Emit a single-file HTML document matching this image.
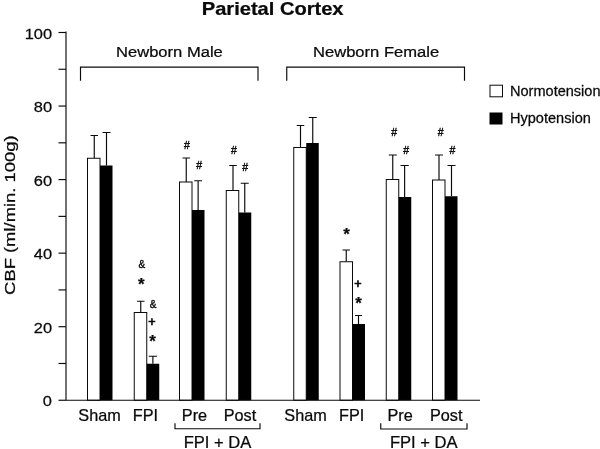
<!DOCTYPE html>
<html><head><meta charset="utf-8"><title>Parietal Cortex</title>
<style>
html,body{margin:0;padding:0;background:#fff;}
svg{display:block;filter:grayscale(1);font-family:"Liberation Sans",Arial,Helvetica,sans-serif;fill:#0a0a0a;}
text{stroke:#0a0a0a;stroke-width:0.25px;}
text.s{stroke-width:0.4px;}
text.p{stroke-width:0.7px;}
</style></head><body>
<svg width="600" height="449" viewBox="0 0 600 449">
<rect x="0" y="0" width="600" height="449" fill="#ffffff"/>

<g stroke="#0a0a0a" stroke-width="1.15" fill="none">
<path d="M94.25 158.25V135.50M90.50 135.50H98.00"/>
<path d="M106.50 165.50V132.50M102.50 132.50H110.50"/>
<path d="M140.75 312.50V301.25M137.00 301.25H144.50"/>
<path d="M152.88 363.75V356.25M148.75 356.25H157.00"/>
<path d="M186.25 182.00V158.00M182.50 158.00H190.00"/>
<path d="M198.12 210.00V180.75M194.25 180.75H202.00"/>
<path d="M233.00 190.50V165.50M229.25 165.50H236.75"/>
<path d="M244.75 212.50V183.25M240.75 183.25H248.75"/>
<path d="M300.50 147.50V125.50M296.75 125.50H304.25"/>
<path d="M312.75 143.00V117.50M308.75 117.50H316.75"/>
<path d="M346.25 261.75V250.00M342.50 250.00H350.00"/>
<path d="M358.50 324.00V315.50M355.00 315.50H362.00"/>
<path d="M392.75 179.50V155.00M388.75 155.00H396.75"/>
<path d="M404.62 197.00V165.50M400.50 165.50H408.75"/>
<path d="M439.00 180.00V155.00M435.00 155.00H443.00"/>
<path d="M451.50 196.25V165.50M447.50 165.50H455.50"/>
</g>
<rect x="87.50" y="158.25" width="12.50" height="242.00" fill="#fff" stroke="#0a0a0a" stroke-width="1"/>
<rect x="100.00" y="165.50" width="12.50" height="234.75" fill="#000" stroke="none"/>
<rect x="134.25" y="312.50" width="12.50" height="87.75" fill="#fff" stroke="#0a0a0a" stroke-width="1"/>
<rect x="146.75" y="363.75" width="12.50" height="36.50" fill="#000" stroke="none"/>
<rect x="179.50" y="182.00" width="12.50" height="218.25" fill="#fff" stroke="#0a0a0a" stroke-width="1"/>
<rect x="192.00" y="210.00" width="12.50" height="190.25" fill="#000" stroke="none"/>
<rect x="226.25" y="190.50" width="12.50" height="209.75" fill="#fff" stroke="#0a0a0a" stroke-width="1"/>
<rect x="238.75" y="212.50" width="12.50" height="187.75" fill="#000" stroke="none"/>
<rect x="293.75" y="147.50" width="12.50" height="252.75" fill="#fff" stroke="#0a0a0a" stroke-width="1"/>
<rect x="306.25" y="143.00" width="12.50" height="257.25" fill="#000" stroke="none"/>
<rect x="340.00" y="261.75" width="12.50" height="138.50" fill="#fff" stroke="#0a0a0a" stroke-width="1"/>
<rect x="352.50" y="324.00" width="12.50" height="76.25" fill="#000" stroke="none"/>
<rect x="386.25" y="179.50" width="12.50" height="220.75" fill="#fff" stroke="#0a0a0a" stroke-width="1"/>
<rect x="398.75" y="197.00" width="12.50" height="203.25" fill="#000" stroke="none"/>
<rect x="432.50" y="180.00" width="12.50" height="220.25" fill="#fff" stroke="#0a0a0a" stroke-width="1"/>
<rect x="445.00" y="196.25" width="12.50" height="204.00" fill="#000" stroke="none"/>
<g stroke="#0a0a0a" stroke-width="1.15" fill="none">
<path d="M66 31.5V400.25H480"/>
<path d="M58.5 400.25H66"/>
<path d="M58.5 363.48H66"/>
<path d="M58.5 326.70H66"/>
<path d="M58.5 289.93H66"/>
<path d="M58.5 253.15H66"/>
<path d="M58.5 216.38H66"/>
<path d="M58.5 179.60H66"/>
<path d="M58.5 142.82H66"/>
<path d="M58.5 106.05H66"/>
<path d="M58.5 69.27H66"/>
<path d="M58.5 32.50H66"/>
<path d="M80.5 80.75V67.1H258V80.75"/>
<path d="M286.75 80.75V67.1H464.5V80.75"/>
<path d="M175 423.25V428.75H260V423.25"/>
<path d="M380.75 423.25V429H467V423.25"/>
</g>
<rect x="490" y="85.2" width="12.5" height="11.6" fill="#fff" stroke="#0a0a0a" stroke-width="1"/>
<rect x="489.5" y="112.5" width="13" height="12" fill="#000"/>
<text transform="translate(510 95.9) scale(1.04 1)" font-size="14">Normotension</text>
<text transform="translate(510 122.9) scale(1.04 1)" font-size="14">Hypotension</text>
<text transform="translate(201.8 15.2) scale(1.116 1)" font-size="18" font-weight="bold">Parietal Cortex</text>
<text transform="translate(116.0 57.3) scale(1.12 1)" font-size="14.8">Newborn Male</text>
<text transform="translate(313.0 57.3) scale(1.12 1)" font-size="14.8">Newborn Female</text>
<text transform="translate(52.0 406.25) scale(1.08 1)" font-size="15.2" text-anchor="end">0</text>
<text transform="translate(52.0 332.7) scale(1.08 1)" font-size="15.2" text-anchor="end">20</text>
<text transform="translate(52.0 259.15) scale(1.08 1)" font-size="15.2" text-anchor="end">40</text>
<text transform="translate(52.0 185.6) scale(1.08 1)" font-size="15.2" text-anchor="end">60</text>
<text transform="translate(52.0 112.05) scale(1.08 1)" font-size="15.2" text-anchor="end">80</text>
<text transform="translate(52.0 38.5) scale(1.08 1)" font-size="15.2" text-anchor="end">100</text>
<text transform="translate(15.1 294.9) rotate(-90) scale(1.188 1)" font-size="15.5">CBF (ml/min. 100g)</text>
<text transform="translate(78.3 421.4) scale(1.035 1)" font-size="15.7">Sham</text>
<text transform="translate(132.8 421.4) scale(1.035 1)" font-size="15.7">FPI</text>
<text transform="translate(181.8 421.4) scale(1.035 1)" font-size="15.7">Pre</text>
<text transform="translate(223.7 421.4) scale(1.035 1)" font-size="15.7">Post</text>
<text transform="translate(284.3 421.4) scale(1.035 1)" font-size="15.7">Sham</text>
<text transform="translate(339 421.4) scale(1.035 1)" font-size="15.7">FPI</text>
<text transform="translate(387.4 421.4) scale(1.035 1)" font-size="15.7">Pre</text>
<text transform="translate(430 421.4) scale(1.035 1)" font-size="15.7">Post</text>
<text transform="translate(183.7 448.2) scale(1.055 1)" font-size="15.7">FPI + DA</text>
<text transform="translate(389.9 448.2) scale(1.055 1)" font-size="15.7">FPI + DA</text>
<text class="s" transform="translate(187 149.1)" font-size="10.5" text-anchor="middle">#</text>
<text class="s" transform="translate(199.25 169.1)" font-size="10.5" text-anchor="middle">#</text>
<text class="s" transform="translate(234 154.35)" font-size="10.5" text-anchor="middle">#</text>
<text class="s" transform="translate(245.25 171.35)" font-size="10.5" text-anchor="middle">#</text>
<text class="s" transform="translate(394.25 136.1)" font-size="10.5" text-anchor="middle">#</text>
<text class="s" transform="translate(406.25 154.1)" font-size="10.5" text-anchor="middle">#</text>
<text class="s" transform="translate(440.75 136.1)" font-size="10.5" text-anchor="middle">#</text>
<text class="s" transform="translate(452.5 154.1)" font-size="10.5" text-anchor="middle">#</text>
<text class="s" transform="translate(141.75 268.35)" font-size="10" text-anchor="middle">&amp;</text>
<text class="s" transform="translate(153 308.35)" font-size="10" text-anchor="middle">&amp;</text>
<text transform="translate(141.25 289.8)" font-size="17" text-anchor="middle" font-weight="bold">*</text>
<text transform="translate(152.5 346.95)" font-size="17" text-anchor="middle" font-weight="bold">*</text>
<text transform="translate(346.5 240.45)" font-size="17" text-anchor="middle" font-weight="bold">*</text>
<text transform="translate(358.5 309.2)" font-size="17" text-anchor="middle" font-weight="bold">*</text>
<text class="p" transform="translate(152 325.5)" font-size="12.5" text-anchor="middle">+</text>
<text class="p" transform="translate(358 287.5)" font-size="12.5" text-anchor="middle">+</text>
</svg></body></html>
